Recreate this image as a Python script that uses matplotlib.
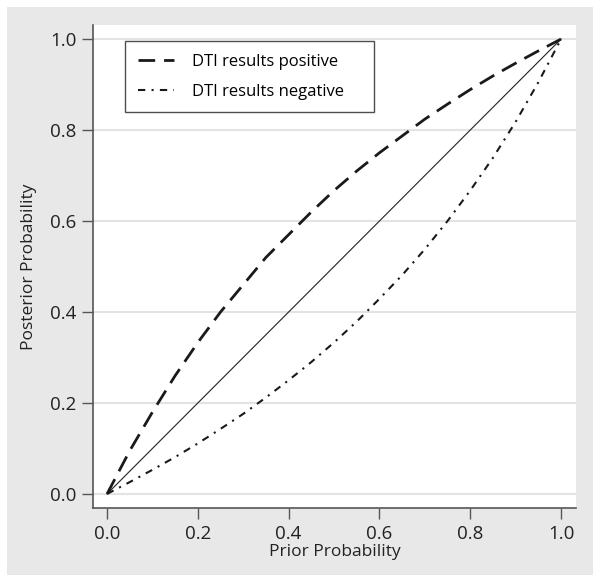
import matplotlib
matplotlib.use("Agg")
import matplotlib.pyplot as plt
from matplotlib.patches import Rectangle

prior = [0.0, 0.05, 0.1, 0.15, 0.2, 0.25, 0.3, 0.35, 0.4, 0.45, 0.5,
         0.55, 0.6, 0.65, 0.7, 0.75, 0.8, 0.85, 0.9, 0.95, 1.0]
post_positive = [0.0, 0.095, 0.18, 0.26, 0.333, 0.40, 0.46, 0.52, 0.57, 0.62, 0.667,
                 0.71, 0.75, 0.787, 0.824, 0.857, 0.889, 0.919, 0.947, 0.974, 1.0]
post_negative = [0.0, 0.026, 0.053, 0.081, 0.111, 0.143, 0.176, 0.212, 0.25, 0.29, 0.333,
                 0.379, 0.429, 0.481, 0.538, 0.60, 0.667, 0.739, 0.818, 0.905, 1.0]
ticks = [0.0, 0.2, 0.4, 0.6, 0.8, 1.0]
tick_labels = ["0.0", "0.2", "0.4", "0.6", "0.8", "1.0"]

plt.rcParams['font.family'] = ['Open Sans', 'DejaVu Sans']

fig = plt.figure(figsize=(6.0, 5.83), dpi=100)
bg = Rectangle((7/600, 8/583), (593-7)/600, (575-7)/583,
               transform=fig.transFigure, facecolor='#e8e8e8',
               edgecolor='none', zorder=-10)
fig.add_artist(bg)
ax = fig.add_axes([93/600, 75/583, (576-93)/600, (508-25)/583])
ax.set_zorder(5)
ax.set_facecolor('white')

ax.plot(prior, prior, color='#222222', lw=0.8)
ax.plot(prior, post_positive, color='#1a1a1a', lw=2.0, dashes=(6, 3.2),
        label='DTI results positive')
ax.plot(prior, post_negative, color='#1a1a1a', lw=1.5, dashes=(3.5, 3, 1, 3),
        label='DTI results negative')

ax.set_xlim(-0.031, 1.033)
ax.set_ylim(-0.031, 1.031)
ax.set_xticks(ticks)
ax.set_xticklabels(tick_labels)
ax.set_yticks(ticks)
ax.set_yticklabels(tick_labels)
ax.yaxis.grid(True, color='#e3e3e3', lw=1.5)
ax.set_axisbelow(True)
for s in ['top', 'right']:
    ax.spines[s].set_visible(False)
for s in ['left', 'bottom']:
    ax.spines[s].set_color('#555555')
    ax.spines[s].set_linewidth(1.2)
ax.tick_params(axis='both', direction='out', length=8, width=1.0, color='#555555',
               labelsize=13.5, labelcolor='#222222', pad=4)
ax.set_xlabel('Prior Probability', fontsize=12.5, color='#222222', labelpad=1)
ax.set_ylabel('Posterior Probability', fontsize=12.5, color='#222222', labelpad=9)

y_bot = 1 - (113 - 25) / 483
leg = ax.legend(loc='upper left',
                bbox_to_anchor=((125 - 93) / 483, y_bot, (374 - 125) / 483, 72 / 483),
                mode='expand', fontsize=12, frameon=True, fancybox=False,
                handlelength=2.2, borderpad=0.75, labelspacing=0.85,
                handletextpad=1.1, borderaxespad=0)
leg.get_frame().set_edgecolor('#222222')
leg.get_frame().set_linewidth(1.0)

fig.savefig('out.png', dpi=100, facecolor='white')
